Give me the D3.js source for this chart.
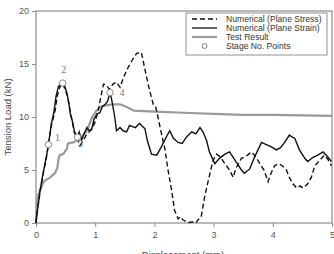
<!DOCTYPE html>
<html>
<head>
<meta charset="utf-8">
<script src="https://cdn.jsdelivr.net/npm/d3@7"></script>
<style>
  html, body { margin: 0; padding: 0; background: #fff; }
  svg { display: block; font-family: "Liberation Sans", Arial, sans-serif; }
</style>
</head>
<body>
<svg id="chart" width="334" height="254"></svg>
<script>
// ---------------------------------------------
// Chart data
// ---------------------------------------------

let stressX = [0, 0.01, 0.07, 0.12, 0.18, 0.21, 0.26, 0.32, 0.36, 0.40, 0.45, 0.49, 0.53, 0.57, 0.61, 0.65, 0.70, 0.74, 0.78, 0.85,
  0.90, 0.94, 0.99, 1.05, 1.11, 1.14, 1.19, 1.24, 1.30, 1.36, 1.42, 1.47, 1.53, 1.59, 1.64, 1.70, 1.78, 1.81, 1.87, 1.92,
  1.98, 2.02, 2.06, 2.12, 2.18, 2.23, 2.29, 2.34, 2.40, 2.44, 2.48, 2.57, 2.64, 2.70, 2.74, 2.79, 2.85, 2.91, 2.99, 3.05,
  3.12, 3.19, 3.27, 3.33, 3.38, 3.47, 3.55, 3.64, 3.72, 3.78, 3.85, 3.92, 3.97, 4.03, 4.10, 4.16, 4.23, 4.28, 4.34, 4.40,
  4.46, 4.51, 4.59, 4.65, 4.71, 4.79, 4.87, 4.93, 4.99];
let stressY = [0, 0.6, 3.0, 4.6, 6.3, 7.4, 9.2, 10.5, 12.0, 12.8, 13.2, 12.6, 12.0, 10.8, 9.6, 8.5, 8.0, 7.3, 7.6, 8.3,
  8.6, 8.9, 9.4, 10.6, 12.3, 13.1, 13.0, 12.6, 13.1, 13.3, 12.8, 13.6, 14.4, 15.0, 15.5, 16.0, 16.1, 15.3, 13.7, 12.5,
  11.2, 11.0, 10.0, 8.4, 6.9, 5.0, 3.1, 1.2, 0.4, 0.6, 0.3, 0.05, 0.1, 0.0, 0.3, 0.6, 2.5, 4.0, 5.9, 6.5,
  6.2, 5.6, 5.0, 4.3, 5.2, 6.1, 6.3, 6.7, 6.2, 5.6, 5.0, 3.9, 4.7, 5.4, 5.6, 5.4, 5.0, 4.3, 3.7, 3.3,
  3.5, 3.3, 3.7, 4.3, 5.4, 5.9, 6.4, 6.0, 5.4];

let strainX = [0, 0.01, 0.07, 0.12, 0.18, 0.21, 0.26, 0.30, 0.34, 0.38, 0.42, 0.45, 0.48, 0.52, 0.55, 0.58, 0.62, 0.65, 0.68, 0.70,
  0.73, 0.77, 0.81, 0.86, 0.90, 0.94, 0.98, 1.03, 1.08, 1.12, 1.17, 1.21, 1.25, 1.28, 1.33, 1.36, 1.42, 1.47, 1.53, 1.58,
  1.63, 1.68, 1.75, 1.80, 1.84, 1.88, 1.95, 2.04, 2.12, 2.20, 2.26, 2.32, 2.40, 2.47, 2.54, 2.63, 2.70, 2.77, 2.82, 2.88,
  2.93, 3.02, 3.10, 3.19, 3.27, 3.33, 3.40, 3.47, 3.52, 3.61, 3.69, 3.75, 3.81, 3.89, 3.97, 4.06, 4.13, 4.20, 4.28, 4.33,
  4.37, 4.45, 4.54, 4.59, 4.68, 4.76, 4.85, 4.92, 4.99];
let strainY = [0, 0.6, 3.1, 4.7, 6.4, 7.4, 9.4, 10.4, 12.0, 12.9, 13.1, 13.2, 13.0, 12.3, 11.5, 10.3, 9.5, 8.6, 8.3, 8.1,
  8.6, 7.8, 8.4, 9.0, 8.7, 8.8, 9.8, 10.3, 10.4, 11.0, 11.2, 11.5, 12.3, 11.6, 10.0, 8.7, 9.0, 8.7, 8.6, 9.2,
  9.1, 9.0, 9.4, 9.1, 8.9, 7.8, 6.5, 6.4, 7.2, 8.1, 8.7, 8.0, 7.6, 7.5, 8.1, 8.6, 8.4, 9.0, 8.6, 7.8,
  6.7, 5.6, 6.1, 6.5, 6.7, 6.2, 5.6, 5.0, 4.7, 5.1, 6.2, 6.9, 7.6, 7.4, 7.2, 6.9, 7.1, 7.6, 8.3, 8.1,
  8.0, 6.9, 6.1, 5.8, 6.2, 6.4, 6.7, 6.3, 5.8];

let testX = [0, 0.02, 0.04, 0.07, 0.12, 0.15, 0.24, 0.32, 0.36, 0.38, 0.40, 0.46, 0.52, 0.54, 0.63, 0.69, 0.75, 0.85, 0.95, 1.02,
  1.10, 1.19, 1.30, 1.42, 1.55, 1.65, 2.0, 2.5, 3.0, 3.5, 4.0, 5.0];
let testY = [0, 2.3, 2.7, 3.1, 3.8, 4.0, 4.3, 4.7, 5.2, 6.0, 6.4, 6.5, 7.0, 7.5, 7.6, 7.8, 8.0, 8.6, 10.0, 10.6,
  11.0, 11.1, 11.2, 11.2, 10.9, 10.6, 10.5, 10.4, 10.3, 10.2, 10.2, 10.1];

let stageX = [0.21, 0.45, 0.70, 1.25];
let stageY = [7.4, 13.2, 8.1, 12.3];
let stageLabels = ['1', '2', '3', '4'];

let xTicks = [0, 1, 2, 3, 4, 5];
let yTicks = [0, 5, 10, 15, 20];

let legendLabels = ['Numerical (Plane Stress)', 'Numerical (Plane Strain)', 'Test Result', 'Stage No. Points'];

// ---------------------------------------------
// Drawing
// ---------------------------------------------

let toPoints = function(xValues, yValues) {
  return xValues.map((x, i) => ({x: x, y: yValues[i]}));
};

let svg = d3.select('#chart');
let plotLeft = 36, plotRight = 332, plotTop = 11, plotBottom = 223;

let scaleX = d3.scaleLinear().domain([0, 5]).range([plotLeft, plotRight]);
let scaleY = d3.scaleLinear().domain([0, 20]).range([plotBottom, plotTop]);

let axisColor = '#8c8c8c';
let textColor = '#555';

// frame
svg.append('rect')
    .attr('x', plotLeft).attr('y', plotTop)
    .attr('width', plotRight - plotLeft).attr('height', plotBottom - plotTop)
    .attr('fill', 'none').attr('stroke', axisColor).attr('stroke-width', 1.2);

// axes
let styleAxis = function(g) {
  g.select('.domain').remove();
  g.selectAll('line').attr('stroke', axisColor);
  g.selectAll('text').attr('fill', textColor).attr('font-size', 9);
};

svg.append('g')
    .attr('transform', 'translate(0,' + plotBottom + ')')
    .call(d3.axisBottom(scaleX).tickValues(xTicks).tickFormat(d3.format('d'))
        .tickSize(4).tickPadding(5))
    .call(styleAxis);

svg.append('g')
    .attr('transform', 'translate(' + plotLeft + ',0)')
    .call(d3.axisLeft(scaleY).tickValues(yTicks).tickFormat(d3.format('d'))
        .tickSize(4).tickPadding(3))
    .call(styleAxis);

// axis titles
svg.append('text')
    .attr('x', 183).attr('y', 258)
    .attr('text-anchor', 'middle')
    .attr('font-size', 9.5).attr('fill', '#444')
    .text('Displacement (mm)');

svg.append('text')
    .attr('transform', 'translate(11,117) rotate(-90)')
    .attr('text-anchor', 'middle')
    .attr('font-size', 9.5).attr('fill', '#444')
    .text('Tension Load (kN)');

let line = d3.line()
    .x((p) => scaleX(p.x))
    .y((p) => scaleY(p.y));

// test result
svg.append('path')
    .datum(toPoints(testX, testY))
    .attr('d', line)
    .attr('fill', 'none').attr('stroke', '#9a9a9a').attr('stroke-width', 2.2);

// plane strain
svg.append('path')
    .datum(toPoints(strainX, strainY))
    .attr('d', line)
    .attr('fill', 'none').attr('stroke', '#111').attr('stroke-width', 1.4);

// plane stress
svg.append('path')
    .datum(toPoints(stressX, stressY))
    .attr('d', line)
    .attr('fill', 'none').attr('stroke', '#111').attr('stroke-width', 1.4)
    .attr('stroke-dasharray', '5,3');

// stage points
let stages = toPoints(stageX, stageY);
let labelOffsets = [[9, -7], [1, -14], [3, 6], [12, 0]];

svg.selectAll('circle.stage').data(stages)
    .join('circle')
    .attr('class', 'stage')
    .attr('cx', (p) => scaleX(p.x))
    .attr('cy', (p) => scaleY(p.y))
    .attr('r', 3.2)
    .attr('fill', '#fff').attr('stroke', '#888').attr('stroke-width', 1);

svg.selectAll('text.stage').data(stages)
    .join('text')
    .attr('class', 'stage')
    .attr('x', (p, i) => scaleX(p.x) + labelOffsets[i][0])
    .attr('y', (p, i) => scaleY(p.y) + labelOffsets[i][1])
    .attr('text-anchor', 'middle')
    .attr('dominant-baseline', 'central')
    .attr('font-family', '"Liberation Serif", serif')
    .attr('font-size', 10).attr('fill', '#777')
    .text((p, i) => stageLabels[i]);

// legend
let legend = svg.append('g').attr('transform', 'translate(186,13)');
legend.append('rect')
    .attr('width', 141).attr('height', 42)
    .attr('fill', '#fff').attr('stroke', '#777').attr('stroke-width', 0.8);

let rowY = (i) => 6 + i * 9;
legend.append('line')
    .attr('x1', 6).attr('x2', 31).attr('y1', rowY(0)).attr('y2', rowY(0))
    .attr('stroke', '#111').attr('stroke-width', 1.3).attr('stroke-dasharray', '5,3');
legend.append('line')
    .attr('x1', 6).attr('x2', 31).attr('y1', rowY(1)).attr('y2', rowY(1))
    .attr('stroke', '#111').attr('stroke-width', 1.3);
legend.append('line')
    .attr('x1', 6).attr('x2', 31).attr('y1', rowY(2)).attr('y2', rowY(2))
    .attr('stroke', '#9a9a9a').attr('stroke-width', 2.2);
legend.append('circle')
    .attr('cx', 18.5).attr('cy', rowY(3)).attr('r', 2.5)
    .attr('fill', '#fff').attr('stroke', '#777').attr('stroke-width', 0.9);

legend.selectAll('text').data(legendLabels)
    .join('text')
    .attr('x', 40)
    .attr('y', (d, i) => rowY(i))
    .attr('dominant-baseline', 'central')
    .attr('font-size', 8.6).attr('fill', '#333')
    .text((d) => d);
</script>
</body>
</html>
